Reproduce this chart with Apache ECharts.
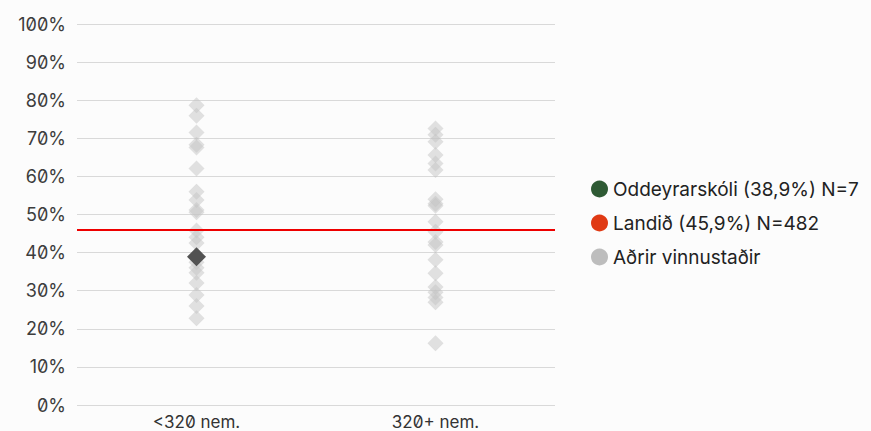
<!DOCTYPE html>
<html><head><meta charset="utf-8">
<script src="https://cdn.jsdelivr.net/npm/echarts@6/dist/echarts.min.js"></script>
<style>
html,body{margin:0;padding:0;background:#fcfcfc}
#c{width:871px;height:431px}
#c text{font-feature-settings:"zero" 1 !important;font-variant-numeric:slashed-zero !important}
</style>
</head><body><div id="c"></div>
<script>
const categories = ['<320 nem.', '320+ nem.'];
const yTicks = [0,10,20,30,40,50,60,70,80,90,100];
const othersSmall = [78.7, 75.9, 71.5, 68.3, 67.6, 62.1, 56.0, 53.8, 51.2, 50.6, 45.8, 44.0, 42.5, 37.5, 36.0, 34.7, 32.0, 28.9, 26.0, 22.8];
const othersLarge = [72.6, 70.9, 69.1, 65.6, 63.4, 61.7, 54.0, 52.8, 52.3, 48.1, 45.5, 42.8, 42.0, 38.1, 34.6, 31.0, 29.6, 28.2, 27.0, 16.2];
const schoolCategory = '<320 nem.';
const schoolValue = 38.9;
const nationalValue = 45.9;
const legendNames = ['Oddeyrarskóli (38,9%) N=7', 'Landið (45,9%) N=482', 'Aðrir vinnustaðir'];

const otherData = [];
othersSmall.forEach(v => otherData.push([categories[0], v]));
othersLarge.forEach(v => otherData.push([categories[1], v]));

const font = 'Inter, "Noto Sans", sans-serif';
const chart = echarts.init(document.getElementById('c'), null, {renderer: 'svg'});
chart.setOption({
  backgroundColor: '#fcfcfc',
  animation: false,
  grid: {left: 77, right: 316, top: 24, bottom: 26},
  xAxis: {
    type: 'category', data: categories, boundaryGap: true,
    axisLine: {show: false}, axisTick: {show: false},
    axisLabel: {color: '#333', fontSize: 17, fontFamily: font, margin: 8}
  },
  yAxis: {
    type: 'value', min: 0, max: 100, interval: 10,
    axisLine: {show: false}, axisTick: {show: false},
    axisLabel: {color: '#3d3d3d', fontSize: 18, fontFamily: font, margin: 11,
      formatter: v => yTicks.includes(v) ? v + '%' : ''},
    splitLine: {lineStyle: {color: '#d9d9d9', width: 1}}
  },
  legend: {
    orient: 'vertical', left: 586, top: 174.5, itemGap: 15,
    itemWidth: 17, itemHeight: 17, icon: 'circle',
    textStyle: {color: '#222', fontSize: 19, lineHeight: 19, fontFamily: font},
    data: [
      {name: legendNames[0], itemStyle: {color: '#2e5a34', opacity: 1}},
      {name: legendNames[1], itemStyle: {color: '#e03a14', opacity: 1}},
      {name: legendNames[2], itemStyle: {color: '#bdbdbd', opacity: 1}}
    ]
  },
  series: [
    {
      name: legendNames[2], type: 'scatter', symbol: 'diamond', symbolSize: 16,
      itemStyle: {color: '#c4c4c4', opacity: 0.5},
      data: otherData, z: 2
    },
    {
      name: legendNames[1], type: 'scatter', data: [],
      itemStyle: {color: '#e03a14'},
      markLine: {
        silent: true, symbol: 'none', label: {show: false},
        lineStyle: {color: '#ee0000', width: 2, type: 'solid'},
        data: [{yAxis: nationalValue}]
      }, z: 3
    },
    {
      name: legendNames[0], type: 'scatter', symbol: 'diamond', symbolSize: 19,
      itemStyle: {color: '#525252', opacity: 1},
      data: [[schoolCategory, schoolValue]], z: 4
    }
  ]
});
</script></body></html>
